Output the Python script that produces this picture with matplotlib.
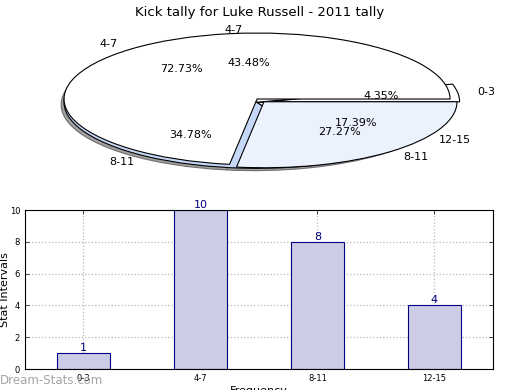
import matplotlib
matplotlib.use("Agg")
import matplotlib.pyplot as plt
import numpy as np

# ---- data ----
title = "Kick tally for Luke Russell - 2011 tally"
categories = ["0-3", "4-7", "8-11", "12-15"]
counts = [1, 10, 8, 4]
pie2_labels = ["4-7", "8-11"]
pie2_values = [8, 3]
yticks = [0, 2, 4, 6, 8, 10]

fig = plt.figure(figsize=(5.2, 3.9), dpi=100)

# ---------------- pie (squashed 3D-like) ----------------
axp = fig.add_axes([0.0303, 0.5346, 0.928, 0.423])
axp.set_xlim(-1.25, 1.25)
axp.set_ylim(-1.25, 1.25)

# shadow layer
axp.pie(pie2_values, colors=["#a0a0a0", "#a0a0a0"], center=(-0.015, -0.085),
        wedgeprops=dict(edgecolor="#707070", linewidth=0.8), normalize=True)

# pie 1 (exploded smallest slice), slightly lowered as depth layer
explode1 = [0.05, 0, 0, 0]
axp.pie(counts, labels=categories, explode=explode1,
        colors=["white", "white", "#c6d8f8", "white"],
        autopct="%.2f%%", startangle=0, counterclock=True, center=(0.0, -0.05),
        wedgeprops=dict(edgecolor="black", linewidth=0.8),
        textprops=dict(fontsize=8))
# pie 2 on top
axp.pie(pie2_values, labels=pie2_labels, explode=[0, 0.055],
        colors=["white", "#ecf2fd"], autopct="%.2f%%", startangle=0,
        wedgeprops=dict(edgecolor="black", linewidth=0.8),
        textprops=dict(fontsize=8))
axp.set_aspect("auto")
axp.set_xlim(-1.25, 1.25)
axp.set_ylim(-1.25, 1.25)
axp.axis("off")
fig.text(0.5, 0.985, title, ha="center", va="top", fontsize=9.5)

# ---------------- bar chart ----------------
axb = fig.add_axes([0.048, 0.0538, 0.9, 0.4077])
x = np.arange(len(categories))
bars = axb.bar(x, counts, width=0.45, color="#ccccE6", edgecolor="#000080",
               linewidth=0.8, zorder=2)
for xi, v in zip(x, counts):
    axb.text(xi, v, str(v), ha="center", va="bottom", color="#000080",
             fontsize=8, zorder=3)
axb.set_xlim(-0.5, len(categories) - 0.5)
axb.set_ylim(0, 10)
axb.set_yticks(yticks)
axb.set_xticks(x)
axb.set_xticklabels(categories)
axb.tick_params(axis="both", labelsize=6, direction="in", top=True,
                right=True, length=3, width=0.5)
axb.grid(True, linestyle=":", color="#b8b8b8", linewidth=0.9, zorder=0)
axb.set_axisbelow(True)
axb.set_ylabel("Stat Intervals", fontsize=8)
axb.yaxis.set_label_coords(-0.031, 0.5)
axb.set_xlabel("Frequency", fontsize=8, labelpad=2)

fig.text(0.0, 0.025, "Dream-Stats.com", fontsize=8.5, color="#a4a4a4",
         ha="left", va="center")

fig.savefig("out.png", dpi=100)
